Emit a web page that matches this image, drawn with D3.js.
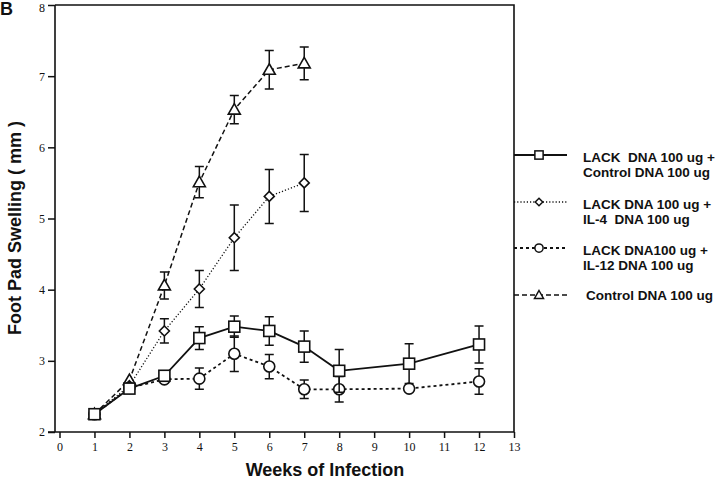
<!DOCTYPE html>
<html>
<head>
<meta charset="utf-8">
<script src="https://cdn.jsdelivr.net/npm/d3@7"></script>
<style>
  body { margin: 0; background: #fff; }
  svg { display: block; }
</style>
</head>
<body>
<svg id="chart" width="720" height="483"></svg>
<script>
// data (weeks, mean, error)
let lackCtrlWeeks = [1, 2, 3, 4, 5, 6, 7, 8, 10, 12]
let lackCtrlMean = [2.25, 2.61, 2.79, 3.32, 3.48, 3.42, 3.20, 2.86, 2.96, 3.23]
let lackCtrlErr = [0, 0, 0, 0.16, 0.15, 0.20, 0.22, 0.30, 0.28, 0.26]

let il4Weeks = [1, 2, 3, 4, 5, 6, 7]
let il4Mean = [2.25, 2.65, 3.42, 4.01, 4.73, 5.31, 5.50]
let il4Err = [0, 0, 0.17, 0.26, 0.46, 0.38, 0.40]

let il12Weeks = [1, 2, 3, 4, 5, 6, 7, 8, 10, 12]
let il12Mean = [2.25, 2.62, 2.74, 2.75, 3.10, 2.92, 2.60, 2.60, 2.61, 2.71]
let il12Err = [0, 0, 0, 0.15, 0.25, 0.17, 0.13, 0.18, 0.04, 0.18]

let ctrlWeeks = [1, 2, 3, 4, 5, 6, 7]
let ctrlMean = [2.25, 2.73, 4.06, 5.51, 6.53, 7.09, 7.18]
let ctrlErr = [0, 0, 0.19, 0.22, 0.20, 0.27, 0.23]

let xTicks = d3.range(0, 14)
let yTicks = [2, 3, 4, 5, 6, 7, 8]

let seriesNames = [
    ["LACK  DNA 100 ug +", "Control DNA 100 ug"],
    ["LACK DNA 100 ug +", "IL-4  DNA 100 ug"],
    ["LACK DNA100 ug +", "IL-12 DNA 100 ug"],
    ["Control DNA 100 ug"]
]

let series = [
    { weeks: lackCtrlWeeks, mean: lackCtrlMean, err: lackCtrlErr, marker: 'square', dash: null, width: 1.8 },
    { weeks: il4Weeks, mean: il4Mean, err: il4Err, marker: 'diamond', dash: '1.2,2', width: 1.3 },
    { weeks: il12Weeks, mean: il12Mean, err: il12Err, marker: 'circle', dash: '3,3', width: 1.8 },
    { weeks: ctrlWeeks, mean: ctrlMean, err: ctrlErr, marker: 'triangle', dash: '5,3', width: 1.5 }
]

let svg = d3.select("#chart")

let xScale = d3.scaleLinear().domain([0, 13]).range([59.5, 514])
let yScale = d3.scaleLinear().domain([2, 8]).range([432, 5])

let axisLeft = 55
let serif = "'Liberation Serif', 'Times New Roman', serif"
let sans = "'Liberation Sans', Arial, sans-serif"

// frame
svg.append('path')
    .attr('d', `M${axisLeft},${yScale(8)} H${xScale(13)} V${yScale(2)} M${axisLeft},${yScale(8)} V${yScale(2)} M48,${yScale(2)} H${xScale(13)}`)
    .attr('fill', 'none')
    .attr('stroke', '#111')
    .attr('stroke-width', 1.6)

// x axis
let xAxis = d3.axisBottom(xScale).tickValues(xTicks).tickSize(6).tickPadding(4)
let gx = svg.append('g')
    .attr('transform', `translate(0,${yScale(2)})`)
    .call(xAxis)
gx.select('.domain').remove()
gx.selectAll('line').attr('stroke', '#111').attr('stroke-width', 1.5)
gx.selectAll('text').attr('font-family', serif).attr('font-size', 12).attr('fill', '#111')

// y axis
let yAxis = d3.axisLeft(yScale).tickValues(yTicks).tickFormat(d3.format('d')).tickSize(7).tickPadding(3)
let gy = svg.append('g')
    .attr('transform', `translate(${axisLeft},0)`)
    .call(yAxis)
gy.select('.domain').remove()
gy.selectAll('line').attr('stroke', '#111').attr('stroke-width', 1.5)
gy.selectAll('text').attr('font-family', serif).attr('font-size', 12).attr('fill', '#111')
// keep the top label inside the picture
gy.selectAll('text').filter(d => d === 8).attr('dy', '0.5em')

// titles
svg.append('text')
    .attr('x', 325).attr('y', 476)
    .attr('text-anchor', 'middle')
    .attr('font-family', sans).attr('font-weight', 'bold').attr('font-size', 18)
    .attr('fill', '#111')
    .text('Weeks of Infection')

svg.append('text')
    .attr('transform', 'translate(21,228) rotate(-90)')
    .attr('text-anchor', 'middle')
    .attr('font-family', sans).attr('font-weight', 'bold').attr('font-size', 18)
    .attr('fill', '#111')
    .text('Foot Pad Swelling ( mm )')

svg.append('text')
    .attr('x', 0).attr('y', 15)
    .attr('font-family', sans).attr('font-weight', 'bold').attr('font-size', 18)
    .attr('fill', '#111')
    .text('B')

let drawMarker = (g, type, x, y, k) => {
    if (type === 'square') {
        g.append('rect').attr('x', x - 5.5 * k).attr('y', y - 5.5 * k).attr('width', 11 * k).attr('height', 11 * k)
    } else if (type === 'diamond') {
        g.append('path').attr('d', `M${x},${y - 5 * k} L${x + 5 * k},${y} L${x},${y + 5 * k} L${x - 5 * k},${y} Z`)
    } else if (type === 'circle') {
        g.append('circle').attr('cx', x).attr('cy', y).attr('r', 5.5 * k)
    } else {
        g.append('path').attr('d', `M${x},${y - 6 * k} L${x + 6 * k},${y + 4.5 * k} L${x - 6 * k},${y + 4.5 * k} Z`)
    }
}

// draw series back to front
let order = [3, 1, 2, 0]
order.forEach((si) => {
    let s = series[si]
    let pts = s.weeks.map((w, i) => ({ x: w, y: s.mean[i], e: s.err[i] }))
    let g = svg.append('g')

    // error bars
    pts.filter(p => p.e > 0).forEach((p) => {
        let cx = xScale(p.x)
        g.append('path')
            .attr('d', `M${cx},${yScale(p.y + p.e)} V${yScale(p.y - p.e)} M${cx - 4.5},${yScale(p.y + p.e)} H${cx + 4.5} M${cx - 4.5},${yScale(p.y - p.e)} H${cx + 4.5}`)
            .attr('fill', 'none')
            .attr('stroke', '#111')
            .attr('stroke-width', 1.5)
    })

    let line = d3.line().x(p => xScale(p.x)).y(p => yScale(p.y))
    g.append('path')
        .datum(pts)
        .attr('d', line)
        .attr('fill', 'none')
        .attr('stroke', '#111')
        .attr('stroke-width', s.width)
        .attr('stroke-dasharray', s.dash)

    let mg = g.append('g').attr('fill', '#fff').attr('stroke', '#111').attr('stroke-width', 1.6)
    pts.forEach((p) => drawMarker(mg, s.marker, xScale(p.x), yScale(p.y), 1))
})

// legend
let legendY = [155, 202, 248, 295]
series.forEach((s, i) => {
    let y = legendY[i]
    let g = svg.append('g')
    g.append('line')
        .attr('x1', xScale(13)).attr('x2', 567).attr('y1', y).attr('y2', y)
        .attr('stroke', '#111').attr('stroke-width', s.width)
        .attr('stroke-dasharray', s.dash)
    let mg = g.append('g').attr('fill', '#fff').attr('stroke', '#111').attr('stroke-width', 1.5)
    drawMarker(mg, s.marker, 539, y, 0.75)

    let lines = seriesNames[i]
    let t = g.append('text')
        .attr('font-family', sans).attr('font-weight', 'bold').attr('font-size', 13.5)
        .attr('fill', '#111')
        .style('white-space', 'pre')
    lines.forEach((ln, k) => {
        t.append('tspan')
            .attr('x', lines.length === 1 ? 586 : 583)
            .attr('y', lines.length === 1 ? y + 5 : y + 7 + k * 15)
            .text(ln)
    })
})
</script>
</body>
</html>
